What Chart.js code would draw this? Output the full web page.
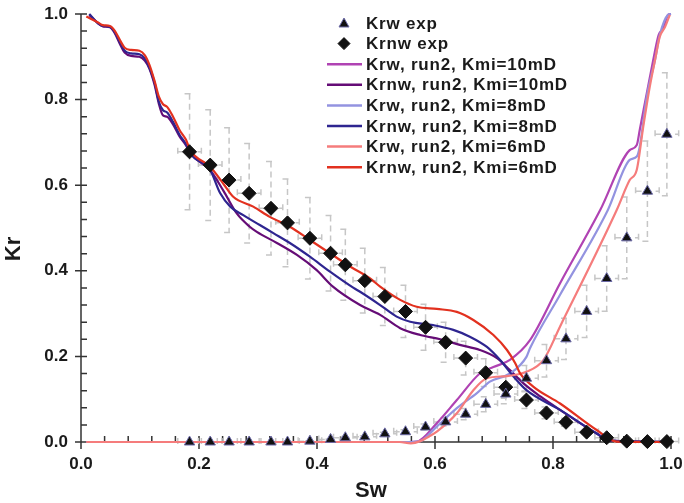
<!DOCTYPE html>
<html lang="en">
<head>
<meta charset="UTF-8">
<title>Kr vs Sw</title>
<script src="https://cdn.jsdelivr.net/npm/chart.js"></script>
<style>
  html, body { margin: 0; padding: 0; background: #fff; }
</style>
</head>
<body>
<canvas id="krChart" width="684" height="503"></canvas>
<script>
// experimental points (both sets share the same Sw)
const swExp   = [0.184, 0.219, 0.251, 0.285, 0.322, 0.350, 0.388, 0.423, 0.448, 0.481, 0.515, 0.550, 0.584,
                 0.618, 0.652, 0.686, 0.720, 0.755, 0.789, 0.822, 0.857, 0.891, 0.925, 0.960, 0.993];
const krwExp  = [0, 0, 0, 0, 0, 0, 0.002, 0.006, 0.010, 0.012, 0.019, 0.024, 0.035,
                 0.047, 0.065, 0.088, 0.112, 0.149, 0.190, 0.241, 0.305, 0.382, 0.477, 0.586, 0.719];
const krnwExp = [0.678, 0.647, 0.612, 0.581, 0.546, 0.512, 0.476, 0.441, 0.414, 0.377, 0.340, 0.305, 0.268,
                 0.233, 0.196, 0.162, 0.128, 0.098, 0.068, 0.046, 0.023, 0.010, 0.002, 0.001, 0.001];
const errYFrac = 0.2;   // vertical error bars, +-20 %
const errX = 0.02;      // horizontal error bars

// simulated curves, run2
const swKrw10 = [0.009, 0.555, 0.569, 0.603, 0.637, 0.676, 0.699, 0.727, 0.761, 0.812, 0.880, 0.930, 0.942, 0.947, 0.959, 0.970, 0.979, 0.987, 0.995, 1.0];
const krKrw10 = [0, 0, 0.001, 0.044, 0.098, 0.160, 0.175, 0.192, 0.238, 0.371, 0.542, 0.682, 0.694, 0.729, 0.815, 0.893, 0.951, 0.967, 0.998, 1.0];

const swKrw8 = [0.009, 0.560, 0.575, 0.603, 0.637, 0.671, 0.693, 0.727, 0.755, 0.761, 0.812, 0.893, 0.930, 0.942, 0.947, 0.959, 0.973, 0.981, 0.995, 1.0];
const krKrw8 = [0, 0, 0.002, 0.036, 0.079, 0.114, 0.141, 0.160, 0.199, 0.219, 0.344, 0.542, 0.659, 0.667, 0.690, 0.807, 0.893, 0.951, 0.998, 1.0];

const swKrw6 = [0.009, 0.540, 0.559, 0.575, 0.590, 0.603, 0.637, 0.665, 0.688, 0.722, 0.755, 0.784, 0.812, 0.908, 0.930, 0.942, 0.953, 0.964, 0.973, 0.981, 0.990, 0.998];
const krKrw6 = [0, 0, -0.003, 0.002, 0.013, 0.024, 0.067, 0.121, 0.149, 0.154, 0.164, 0.192, 0.270, 0.542, 0.612, 0.636, 0.737, 0.830, 0.893, 0.947, 0.970, 0.998];

const swKrnw10 = [0.014, 0.029, 0.037, 0.049, 0.057, 0.066, 0.074, 0.085, 0.099, 0.108, 0.116, 0.125, 0.132, 0.139, 0.146, 0.156, 0.167, 0.178,
                  0.185, 0.219, 0.241, 0.264, 0.286, 0.298, 0.332, 0.366, 0.399, 0.427, 0.473, 0.507, 0.541, 0.575, 0.609, 0.642, 0.676,
                  0.705, 0.727, 0.750, 0.778, 0.812, 0.874, 0.897, 1.0];
const krKrnw10 = [0.998, 0.978, 0.971, 0.969, 0.956, 0.930, 0.910, 0.902, 0.900, 0.891, 0.872, 0.833, 0.790, 0.763, 0.760, 0.742, 0.714, 0.693,
                  0.675, 0.635, 0.588, 0.534, 0.503, 0.491, 0.465, 0.437, 0.402, 0.363, 0.320, 0.297, 0.266, 0.250, 0.240, 0.227, 0.215,
                  0.196, 0.168, 0.137, 0.107, 0.075, 0.020, 0.003, 0];

const swKrnw8 = [0.014, 0.029, 0.037, 0.049, 0.057, 0.066, 0.074, 0.085, 0.099, 0.108, 0.116, 0.125, 0.132, 0.139, 0.146, 0.156, 0.167, 0.178,
                 0.185, 0.219, 0.236, 0.253, 0.275, 0.303, 0.326, 0.354, 0.388, 0.422, 0.462, 0.473, 0.507, 0.535, 0.558, 0.597, 0.631,
                 0.659, 0.688, 0.710, 0.733, 0.755, 0.812, 0.874, 0.897, 1.0];
const krKrnw8 = [1.0, 0.978, 0.972, 0.970, 0.958, 0.934, 0.914, 0.908, 0.906, 0.896, 0.875, 0.838, 0.795, 0.775, 0.770, 0.748, 0.718, 0.696,
                 0.675, 0.635, 0.581, 0.550, 0.530, 0.507, 0.488, 0.465, 0.433, 0.398, 0.360, 0.351, 0.320, 0.293, 0.281, 0.273, 0.262,
                 0.246, 0.222, 0.192, 0.153, 0.121, 0.075, 0.020, 0.003, 0];

const swKrnw6 = [0.009, 0.029, 0.037, 0.049, 0.057, 0.066, 0.074, 0.085, 0.099, 0.108, 0.116, 0.125, 0.132, 0.139, 0.146, 0.156, 0.167, 0.178,
                 0.185, 0.219, 0.241, 0.258, 0.292, 0.320, 0.354, 0.388, 0.422, 0.456, 0.490, 0.507, 0.541, 0.569, 0.603, 0.637, 0.665,
                 0.699, 0.722, 0.736, 0.744, 0.767, 0.812, 0.874, 0.908, 1.0];
const krKrnw6 = [0.994, 0.980, 0.974, 0.972, 0.961, 0.939, 0.921, 0.916, 0.914, 0.904, 0.881, 0.842, 0.807, 0.789, 0.783, 0.760, 0.729, 0.706,
                 0.682, 0.643, 0.604, 0.573, 0.550, 0.526, 0.503, 0.472, 0.441, 0.410, 0.382, 0.363, 0.332, 0.316, 0.311, 0.304, 0.285,
                 0.250, 0.215, 0.184, 0.161, 0.129, 0.090, 0.028, 0.001, 0];

const toPts = (xs, ys) => xs.map((v, i) => ({ x: v, y: ys[i] }));

function lineSet(label, xs, ys, color, order) {
    return {
        label: label,
        data: toPts(xs, ys),
        showLine: true,
        borderColor: color,
        backgroundColor: color,
        borderWidth: 2.2,
        pointRadius: 0,
        cubicInterpolationMode: 'monotone',
        clip: false,
        order: order
    };
}

// axis lines and ticks (major ticks cross the axis, minor ticks inside)
const axesPlugin = {
    id: 'axesPlugin',
    beforeDatasetsDraw(chart) {
        const { ctx, chartArea: a, scales: { x, y } } = chart;
        ctx.save();
        ctx.strokeStyle = '#333';
        ctx.lineWidth = 1.5;
        ctx.beginPath();
        ctx.moveTo(a.left, a.top); ctx.lineTo(a.left, a.bottom); ctx.lineTo(a.right, a.bottom);
        for (let i = 0; i <= 25; i++) {
            const v = i * 0.04;
            const major = i % 5 === 0;
            const px = x.getPixelForValue(v), py = y.getPixelForValue(v);
            ctx.moveTo(px, a.bottom + (major ? 7 : 0)); ctx.lineTo(px, a.bottom - 6);
            ctx.moveTo(a.left - (major ? 6 : 0), py); ctx.lineTo(a.left + 6, py);
        }
        ctx.stroke();
        ctx.restore();
    }
};

const errorBars = {
    id: 'errorBars',
    beforeDatasetsDraw(chart) {
        const { ctx, scales: { x, y } } = chart;
        ctx.save();
        ctx.strokeStyle = '#c6c6c6';
        ctx.lineWidth = 1.5;
        ctx.setLineDash([6, 4]);
        [krwExp, krnwExp].forEach(vals => {
            swExp.forEach((s, i) => {
                const v = vals[i];
                const px = x.getPixelForValue(s), py = y.getPixelForValue(v);
                const top = y.getPixelForValue(v * (1 + errYFrac));
                const bot = y.getPixelForValue(v * (1 - errYFrac));
                const l = x.getPixelForValue(s - errX), r = x.getPixelForValue(s + errX);
                ctx.beginPath();
                ctx.moveTo(px, top); ctx.lineTo(px, bot);
                ctx.moveTo(px - 5, top); ctx.lineTo(px + 5, top);
                ctx.moveTo(px - 5, bot); ctx.lineTo(px + 5, bot);
                ctx.moveTo(l, py); ctx.lineTo(r, py);
                ctx.moveTo(l, py - 4); ctx.lineTo(l, py + 4);
                ctx.moveTo(r, py - 4); ctx.lineTo(r, py + 4);
                ctx.stroke();
            });
        });
        ctx.restore();
    }
};

// axis titles and legend
const labelsPlugin = {
    id: 'labelsPlugin',
    afterDraw(chart) {
        const { ctx, chartArea: a } = chart;
        ctx.save();
        ctx.fillStyle = '#1a1a1a';
        ctx.font = 'bold 22px "Liberation Sans", Arial, sans-serif';
        ctx.textAlign = 'center';
        ctx.textBaseline = 'middle';
        ctx.fillText('Sw', (a.left + a.right) / 2 - 5, 491);
        ctx.save();
        ctx.translate(14, 249);
        ctx.rotate(-Math.PI / 2);
        ctx.fillText('Kr', 0, 0);
        ctx.restore();

        ctx.font = 'bold 17px "Liberation Sans", Arial, sans-serif';
        ctx.textAlign = 'left';
        ctx.letterSpacing = '0.8px';
        chart.data.datasets.forEach((ds, i) => {
            const ly = 23 + i * 20.6;
            if (ds.showLine) {
                ctx.strokeStyle = ds.borderColor;
                ctx.lineWidth = 2.5;
                ctx.beginPath();
                ctx.moveTo(327, ly); ctx.lineTo(362, ly);
                ctx.stroke();
            } else {
                ctx.fillStyle = ds.backgroundColor;
                ctx.strokeStyle = ds.borderColor;
                ctx.lineWidth = 1;
                ctx.beginPath();
                if (ds.pointStyle === 'triangle') {
                    ctx.moveTo(344, ly - 5); ctx.lineTo(349, ly + 4); ctx.lineTo(339, ly + 4);
                } else {
                    ctx.moveTo(344, ly - 6); ctx.lineTo(350, ly); ctx.lineTo(344, ly + 6); ctx.lineTo(338, ly);
                }
                ctx.closePath();
                ctx.fill();
                ctx.stroke();
            }
            ctx.fillStyle = '#1a1a1a';
            ctx.fillText(ds.label, 366, ly + 1);
        });
        ctx.restore();
    }
};

new Chart(document.getElementById('krChart'), {
    type: 'scatter',
    data: {
        datasets: [
            {
                label: 'Krw exp',
                data: toPts(swExp, krwExp),
                pointStyle: 'triangle',
                pointRadius: 6,
                backgroundColor: '#111',
                borderColor: '#6c6aa8',
                borderWidth: 1,
                clip: false,
                order: 0
            },
            {
                label: 'Krnw exp',
                data: toPts(swExp, krnwExp),
                pointStyle: 'rectRot',
                pointRadius: 7,
                backgroundColor: '#111',
                borderColor: '#111',
                borderWidth: 1,
                clip: false,
                order: 0
            },
            lineSet('Krw, run2, Kmi=10mD', swKrw10, krKrw10, '#b043b3', 6),
            lineSet('Krnw, run2, Kmi=10mD', swKrnw10, krKrnw10, '#650c76', 5),
            lineSet('Krw, run2, Kmi=8mD', swKrw8, krKrw8, '#9393e0', 4),
            lineSet('Krnw, run2, Kmi=8mD', swKrnw8, krKrnw8, '#2e2590', 3),
            lineSet('Krw, run2, Kmi=6mD', swKrw6, krKrw6, '#f57c7c', 2),
            lineSet('Krnw, run2, Kmi=6mD', swKrnw6, krKrnw6, '#e2311f', 1)
        ]
    },
    options: {
        responsive: false,
        animation: false,
        layout: { padding: { left: 0, right: 13, top: 14, bottom: 0 } },
        plugins: { legend: { display: false }, tooltip: { enabled: false } },
        scales: {
            x: {
                type: 'linear',
                min: 0, max: 1,
                grid: { display: false, drawTicks: false },
                border: { display: false },
                ticks: {
                    stepSize: 0.2,
                    padding: 12,
                    color: '#1a1a1a',
                    font: { family: '"Liberation Sans", Arial, sans-serif', size: 17, weight: 'bold' },
                    callback: v => v.toFixed(1)
                },
                afterFit(s) { s.height = 61; s.paddingLeft = 0; s.paddingRight = 0; }
            },
            y: {
                min: 0, max: 1,
                grid: { display: false, drawTicks: false },
                border: { display: false },
                ticks: {
                    stepSize: 0.2,
                    padding: 13,
                    color: '#1a1a1a',
                    font: { family: '"Liberation Sans", Arial, sans-serif', size: 17, weight: 'bold' },
                    callback: v => v.toFixed(1)
                },
                afterFit(s) { s.width = 81; s.paddingTop = 0; s.paddingBottom = 0; }
            }
        }
    },
    plugins: [axesPlugin, errorBars, labelsPlugin]
});
</script>
</body>
</html>
